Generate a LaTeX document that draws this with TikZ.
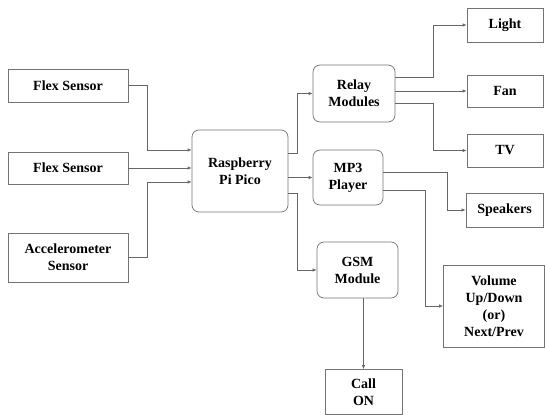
\documentclass[tikz,border=0pt]{standalone}
\usepackage{fontspec}
\setmainfont{Liberation Serif}[BoldFont={Liberation Serif Bold}]
\usetikzlibrary{arrows.meta}

\begin{document}
\begin{tikzpicture}[x=1pt,y=-1pt,
    blk/.style={draw=black!55,line width=0.7pt,align=center,inner sep=1pt,
                font=\fontsize{14}{17}\selectfont\bfseries},
    rblk/.style={blk,rounded corners=7pt},
    arr/.style={draw=black!60,line width=0.7pt,-{Latex[length=4pt,width=3.5pt]}}]
  \pgfmathsetmacro\lw{120}   % width of input boxes
  \pgfmathsetmacro\ow{76}    % width of output boxes
  \useasboundingbox (0,0) rectangle (545,417);

% inputs at left
  \node[blk,minimum width=\lw,minimum height=33] (flexa) at (68,85.5) {Flex Sensor};
  \node[blk,minimum width=\lw,minimum height=32] (flexb) at (68,168) {Flex Sensor};
  \node[blk,minimum width=\lw,minimum height=49] (accel) at (68,257.5) {Accelerometer\\Sensor};

% controller and modules
  \node[rblk,minimum width=96,minimum height=82] (pi) at (240,171) {Raspberry\\Pi Pico};
  \node[rblk,minimum width=82,minimum height=57] (relay) at (354,93.5) {Relay\\Modules};
  \node[rblk,minimum width=70,minimum height=55] (mp3) at (348,177.5) {MP3\\Player};
  \node[rblk,minimum width=81,minimum height=56] (gsm) at (357.5,270) {GSM\\Module};

% outputs at right
  \node[blk,minimum width=\ow,minimum height=34] (light) at (505,25) {Light};
  \node[blk,minimum width=\ow,minimum height=32] (fan) at (505,91) {Fan};
  \node[blk,minimum width=\ow,minimum height=33] (tv) at (505,150.5) {TV};
  \node[blk,minimum width=\ow+1,minimum height=34] (speakers) at (504.5,210) {Speakers};
  \node[blk,minimum width=101,minimum height=82] (volume) at (494,306) {Volume\\Up/Down\\(or)\\Next/Prev};
  \node[blk,minimum width=77,minimum height=45] (call) at (363.5,392) {Call\\ON};

% sensors to controller
  \draw[arr] (flexa.east) -- ++(19,0) |- ([yshift=21pt]pi.west);
  \draw[arr] (flexb.east) -- (flexb.east -| pi.west);
  \draw[arr] (accel.east) -- ++(19,0) |- ([yshift=-11pt]pi.west);

% controller to modules
  \draw[arr] ([yshift=18pt]pi.east) -- ++(9,0) |- (relay.west);
  \draw[arr] (pi.east |- mp3.west) -- (mp3.west);
  \draw[arr] ([yshift=-22pt]pi.east) -- ++(9,0) |- (gsm.west);

% modules to outputs
  \draw[arr] ([yshift=16pt]relay.east) -- ++(38,0) |- (light.west);
  \draw[arr] (relay.east |- fan.west) -- (fan.west);
  \draw[arr] ([yshift=-10pt]relay.east) -- ++(38,0) |- (tv.west);
  \draw[arr] ([yshift=5pt]mp3.east) -- ++(64,0) |- (speakers.west);
  \draw[arr] ([yshift=-12.5pt]mp3.east) -- ++(42,0) |- (volume.west);
  \draw[arr] (call.north |- gsm.south) -- (call.north);
\end{tikzpicture}
\end{document}
